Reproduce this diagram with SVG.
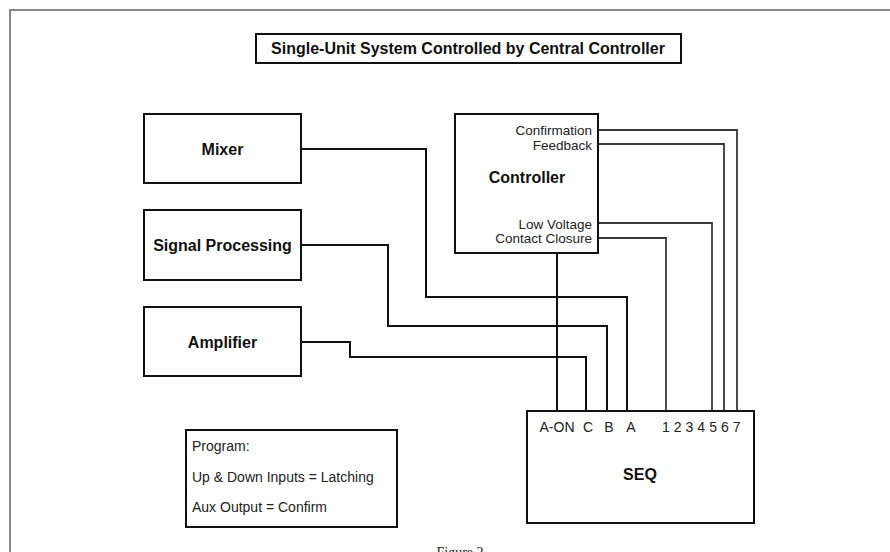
<svg xmlns="http://www.w3.org/2000/svg" width="890" height="552" viewBox="0 0 890 552">
<style>
.box{fill:#fff;stroke:#111;stroke-width:2}
.frame{fill:none;stroke:#888;stroke-width:2}
.wire{fill:none;stroke:#111;stroke-width:2}
.wire2{fill:none;stroke:#3a3a3a;stroke-width:1.8}
.b{font-family:"Liberation Sans",Arial,sans-serif;font-weight:bold;font-size:16px;fill:#111}
.r{font-family:"Liberation Sans",Arial,sans-serif;font-size:14px;fill:#222}
.s{font-size:13.5px}
.cap{font-family:"Liberation Serif","Times New Roman",serif;font-size:14px;fill:#222}
</style>
<rect width="890" height="552" fill="#fff"/>
<path class="frame" d="M10,552 V10 H890"/>
<g id="title">
<rect class="box" x="256" y="34" width="425" height="29"/>
<text class="b" x="468" y="54" text-anchor="middle">Single-Unit System Controlled by Central Controller</text>
</g>
<g id="connectors">
<path class="wire" d="M301,149 H426 V297 H627 V411"/>
<path class="wire" d="M301,245 H388 V326 H607 V411"/>
<path class="wire" d="M301,342 H350 V357 H586 V411"/>
<path class="wire" d="M557,253 V411"/>
<path class="wire2" d="M598,130 H737 V411"/>
<path class="wire2" d="M598,144 H724 V411"/>
<path class="wire2" d="M598,223 H712 V411"/>
<path class="wire2" d="M598,238 H666 V411"/>
</g>
<g id="mixer">
<rect class="box" x="144" y="114" width="157" height="69"/>
<text class="b" x="222.5" y="154.7" text-anchor="middle">Mixer</text>
</g>
<g id="signal-processing">
<rect class="box" x="144" y="210" width="157" height="70"/>
<text class="b" x="222.5" y="250.7" text-anchor="middle">Signal Processing</text>
</g>
<g id="amplifier">
<rect class="box" x="144" y="307" width="157" height="69"/>
<text class="b" x="222.5" y="347.7" text-anchor="middle">Amplifier</text>
</g>
<g id="controller">
<rect class="box" x="455" y="114" width="143" height="139"/>
<text class="b" x="527" y="182.7" text-anchor="middle">Controller</text>
<text class="r s" x="592" y="135" text-anchor="end">Confirmation</text>
<text class="r s" x="592" y="149.5" text-anchor="end">Feedback</text>
<text class="r s" x="592" y="228.5" text-anchor="end">Low Voltage</text>
<text class="r s" x="592" y="243" text-anchor="end">Contact Closure</text>
</g>
<g id="seq">
<rect class="box" x="527" y="411" width="227" height="112"/>
<text class="r" x="557" y="432" text-anchor="middle">A-ON</text>
<text class="r" x="588" y="432" text-anchor="middle">C</text>
<text class="r" x="609" y="432" text-anchor="middle">B</text>
<text class="r" x="631" y="432" text-anchor="middle">A</text>
<text class="r" x="662" y="432" letter-spacing="4">1234567</text>
<text class="b" x="640" y="479.7" text-anchor="middle">SEQ</text>
</g>
<g id="program">
<rect class="box" x="186" y="430" width="211" height="97"/>
<text class="r" x="192" y="451">Program:</text>
<text class="r" x="192" y="482">Up &amp; Down Inputs = Latching</text>
<text class="r" x="192" y="512">Aux Output = Confirm</text>
</g>
<text class="cap" x="460" y="557" text-anchor="middle">Figure 2</text>
</svg>
